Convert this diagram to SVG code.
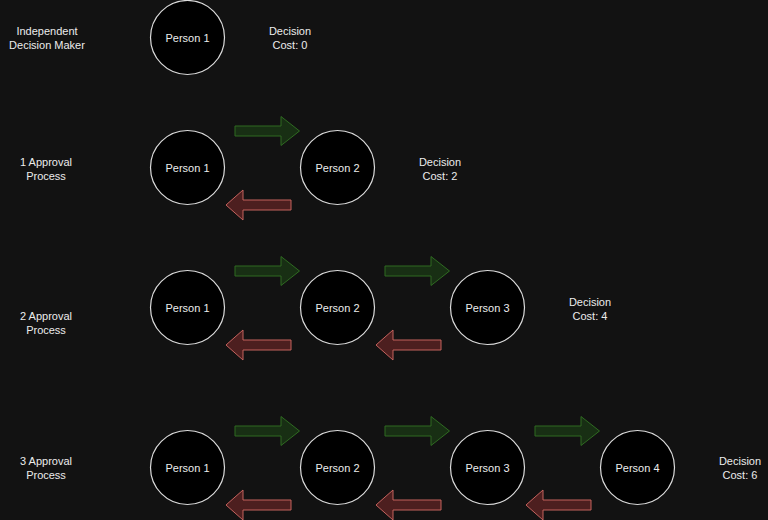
<svg xmlns="http://www.w3.org/2000/svg" width="768" height="520" viewBox="0 0 768 520">
<style>
.bg{fill:#121212}
.node circle{fill:#000;stroke:#dcdcdc;stroke-width:1.2}
text{font-family:"Liberation Sans",Arial,sans-serif;font-size:11px;fill:#ececec;text-anchor:middle}
.fwd{fill:#182f14;stroke:#2f6b21;stroke-width:1}
.back{fill:#4d1f1f;stroke:#c4625d;stroke-width:1}
</style>
<defs>
<path id="fa" d="M0,-5 L46,-5 L46,-14.5 L64.5,0 L46,14.5 L46,5 L0,5 Z"/>
<path id="ba" d="M65,-5 L17,-5 L17,-15 L0,0 L17,15 L17,5 L65,5 Z"/>
</defs>
<rect class="bg" x="0" y="0" width="768" height="520"/>
<g id="labels">
<text x="47" y="35">Independent</text><text x="47" y="49">Decision Maker</text>
<text x="290" y="35">Decision</text><text x="290" y="49">Cost: 0</text>
<text x="46" y="166">1 Approval</text><text x="46" y="180">Process</text>
<text x="440" y="166">Decision</text><text x="440" y="180">Cost: 2</text>
<text x="46" y="320">2 Approval</text><text x="46" y="334">Process</text>
<text x="590" y="306">Decision</text><text x="590" y="320">Cost: 4</text>
<text x="46" y="465">3 Approval</text><text x="46" y="479">Process</text>
<text x="740" y="465">Decision</text><text x="740" y="479">Cost: 6</text>
</g>
<g id="connectors">
<use href="#fa" class="fwd" x="235" y="131"/>
<use href="#ba" class="back" x="226" y="205"/>
<use href="#fa" class="fwd" x="235" y="271"/>
<use href="#fa" class="fwd" x="385" y="271"/>
<use href="#ba" class="back" x="226" y="345"/>
<use href="#ba" class="back" x="376" y="345"/>
<use href="#fa" class="fwd" x="235" y="431"/>
<use href="#fa" class="fwd" x="385" y="431"/>
<use href="#fa" class="fwd" x="535" y="431"/>
<use href="#ba" class="back" x="226" y="505"/>
<use href="#ba" class="back" x="376" y="505"/>
<use href="#ba" class="back" x="526" y="505"/>
</g>
<g id="r0p1" class="node"><circle cx="187.5" cy="37.5" r="37"/><text x="187.5" y="41.5">Person 1</text></g>
<g id="r1p1" class="node"><circle cx="187.5" cy="167.5" r="37"/><text x="187.5" y="171.5">Person 1</text></g>
<g id="r1p2" class="node"><circle cx="337.5" cy="167.5" r="37"/><text x="337.5" y="171.5">Person 2</text></g>
<g id="r2p1" class="node"><circle cx="187.5" cy="307.5" r="37"/><text x="187.5" y="311.5">Person 1</text></g>
<g id="r2p2" class="node"><circle cx="337.5" cy="307.5" r="37"/><text x="337.5" y="311.5">Person 2</text></g>
<g id="r2p3" class="node"><circle cx="487.5" cy="307.5" r="37"/><text x="487.5" y="311.5">Person 3</text></g>
<g id="r3p1" class="node"><circle cx="187.5" cy="467.5" r="37"/><text x="187.5" y="471.5">Person 1</text></g>
<g id="r3p2" class="node"><circle cx="337.5" cy="467.5" r="37"/><text x="337.5" y="471.5">Person 2</text></g>
<g id="r3p3" class="node"><circle cx="487.5" cy="467.5" r="37"/><text x="487.5" y="471.5">Person 3</text></g>
<g id="r3p4" class="node"><circle cx="637.5" cy="467.5" r="37"/><text x="637.5" y="471.5">Person 4</text></g>
</svg>
